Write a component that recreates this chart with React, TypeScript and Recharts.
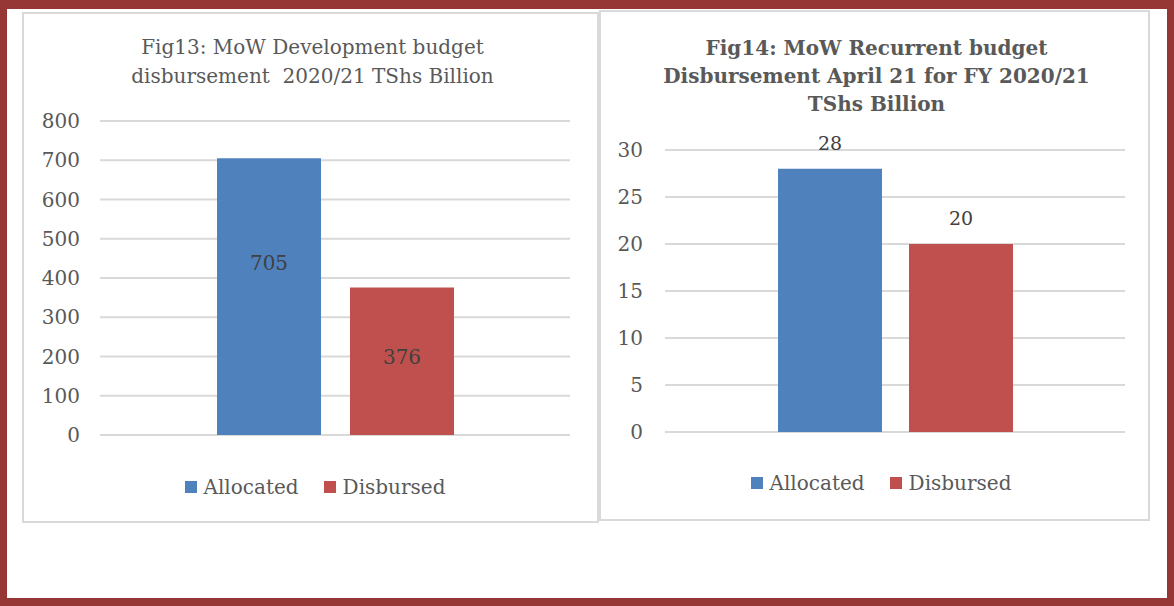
import React from 'react'
import { BarChart, Bar, XAxis, YAxis, CartesianGrid, Legend, LabelList } from 'recharts'

const categories = ['MoW']
const seriesNames = ['Allocated', 'Disbursed']
const devAllocated = [705]
const devDisbursed = [376]
const devTicks = [0, 100, 200, 300, 400, 500, 600, 700, 800]
const recAllocated = [28]
const recDisbursed = [20]
const recTicks = [0, 5, 10, 15, 20, 25, 30]

const BLUE = '#4f81bd'
const RED = '#c0504d'
const GRID = '#d9d9d9'
const TEXT = '#595959'
const FONT = '"DejaVu Serif", serif'

const devData = categories.map((c, i) => ({ name: c, allocated: devAllocated[i], disbursed: devDisbursed[i] }))
const recData = categories.map((c, i) => ({ name: c, allocated: recAllocated[i], disbursed: recDisbursed[i] }))

const legendContent = (padTop: number, shiftX: number) => () => (
  <div
    style={{
      display: 'flex',
      justifyContent: 'center',
      paddingTop: padTop,
      marginLeft: shiftX,
      fontFamily: FONT,
      fontSize: 20,
      color: TEXT,
    }}
  >
    {seriesNames.map((s, i) => (
      <div key={s} style={{ display: 'flex', alignItems: 'center', marginRight: i === 0 ? 25 : 0 }}>
        <span style={{ width: 12, height: 12, background: i === 0 ? BLUE : RED, marginRight: 7, display: 'inline-block' }} />
        <span>{s}</span>
      </div>
    ))}
  </div>
)

// label placed in bar middle, nudged by dy
const centerLabel = (dy: number) => (props: any) => {
  const { x, y, width, height, value } = props
  return (
    <text
      x={x + width / 2}
      y={y + height / 2 + dy}
      textAnchor="middle"
      dominantBaseline="central"
      fontFamily={FONT}
      fontSize={20}
      fill="#404040"
    >
      {value}
    </text>
  )
}

const tickStyle = { fontFamily: FONT, fontSize: 20, fill: TEXT }

export default function App() {
  return (
    <div style={{ position: 'absolute', left: 0, top: 0, width: 1174, height: 606, background: '#fff' }}>
      <div
        style={{
          position: 'absolute', left: 0, top: 0, width: 1174, height: 606, boxSizing: 'border-box',
          borderStyle: 'solid', borderColor: '#973735',
          borderTopWidth: 9, borderLeftWidth: 7, borderRightWidth: 7, borderBottomWidth: 8,
        }}
      />

      {/* left panel */}
      <div
        style={{
          position: 'absolute', left: 22, top: 12, width: 577, height: 511, boxSizing: 'border-box',
          border: `2px solid ${GRID}`, background: '#fff',
        }}
      >
        <div
          style={{
            position: 'absolute', left: 0, top: 19, width: 577, textAlign: 'center',
            fontFamily: FONT, fontSize: 20, lineHeight: '29px', color: TEXT,
          }}
        >
          Fig13: MoW Development budget<br />disbursement&nbsp; 2020/21 TShs Billion
        </div>
        <div style={{ position: 'absolute', left: -2, top: -2 }}>
          <BarChart
            width={577}
            height={511}
            data={devData}
            barSize={104}
            barGap={29}
            margin={{ top: 109, right: 29, bottom: 0, left: 0 }}
          >
            <CartesianGrid vertical={false} stroke={GRID} strokeWidth={2} />
            <XAxis dataKey="name" hide />
            <YAxis
              width={78}
              domain={[0, 800]}
              ticks={devTicks}
              axisLine={false}
              tickLine={false}
              tickMargin={14}
              tick={tickStyle}
              interval={0}
            />
            <Legend verticalAlign="bottom" height={88} content={legendContent(40, 38)} />
            <Bar dataKey="allocated" name={seriesNames[0]} fill={BLUE} isAnimationActive={false}>
              <LabelList dataKey="allocated" content={centerLabel(-34)} />
            </Bar>
            <Bar dataKey="disbursed" name={seriesNames[1]} fill={RED} isAnimationActive={false}>
              <LabelList dataKey="disbursed" content={centerLabel(-4)} />
            </Bar>
          </BarChart>
        </div>
      </div>

      {/* right panel */}
      <div
        style={{
          position: 'absolute', left: 599, top: 10, width: 551, height: 511, boxSizing: 'border-box',
          border: `2px solid ${GRID}`, background: '#fff',
        }}
      >
        <div
          style={{
            position: 'absolute', left: 0, top: 22, width: 551, textAlign: 'center',
            fontFamily: FONT, fontSize: 20, fontWeight: 'bold', lineHeight: '28px', color: TEXT,
          }}
        >
          Fig14: MoW Recurrent budget<br />Disbursement April 21 for FY 2020/21<br />TShs Billion
        </div>
        <div style={{ position: 'absolute', left: -2, top: -2 }}>
          <BarChart
            width={551}
            height={511}
            data={recData}
            barSize={104}
            barGap={27}
            margin={{ top: 140, right: 25, bottom: 0, left: 0 }}
          >
            <CartesianGrid vertical={false} stroke={GRID} strokeWidth={2} />
            <XAxis dataKey="name" hide />
            <YAxis
              width={66}
              domain={[0, 30]}
              ticks={recTicks}
              axisLine={false}
              tickLine={false}
              tickMargin={16}
              tick={tickStyle}
              interval={0}
            />
            <Legend verticalAlign="bottom" height={89} content={legendContent(39, 38)} />
            <Bar dataKey="allocated" name={seriesNames[0]} fill={BLUE} isAnimationActive={false}>
              <LabelList
                dataKey="allocated"
                position="top"
                offset={19}
                style={{ fontFamily: FONT, fontSize: 19, fill: '#404040' }}
              />
            </Bar>
            <Bar dataKey="disbursed" name={seriesNames[1]} fill={RED} isAnimationActive={false}>
              <LabelList
                dataKey="disbursed"
                position="top"
                offset={19}
                style={{ fontFamily: FONT, fontSize: 19, fill: '#404040' }}
              />
            </Bar>
          </BarChart>
        </div>
      </div>
    </div>
  )
}
